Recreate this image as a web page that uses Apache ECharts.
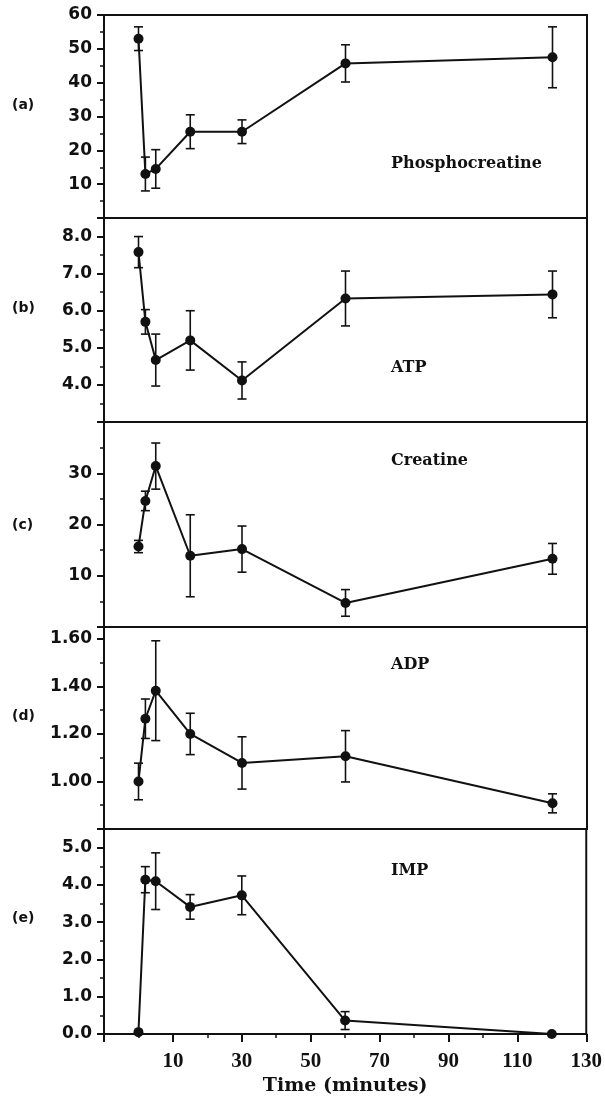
<!DOCTYPE html>
<html><head><meta charset="utf-8">
<script src="https://cdn.jsdelivr.net/npm/echarts@6/dist/echarts.min.js"></script>
<style>html,body{margin:0;padding:0;background:#fff}#c{width:605px;height:1111px}</style>
</head><body><div id="c"></div><script>
// ---- data ----
const times = [0, 2, 5, 15, 30, 60, 120];
const timeTicks = [10, 30, 50, 70, 90, 110, 130];

const pcr = [53, 13, 14.5, 25.5, 25.5, 45.7, 47.5];
const pcrErr = [3.5, 5, 5.7, 5, 3.5, 5.5, 9];
const pcrTicks = [10, 20, 30, 40, 50, 60];

const atp = [7.58, 5.7, 4.67, 5.2, 4.12, 6.33, 6.44];
const atpErr = [0.42, 0.33, 0.7, 0.8, 0.5, 0.74, 0.63];
const atpTicks = [4, 5, 6, 7, 8];

const creatine = [15.7, 24.6, 31.4, 13.9, 15.2, 4.7, 13.3];
const creatineErr = [1.2, 1.9, 4.5, 8, 4.5, 2.6, 3];
const creatineTicks = [10, 20, 30];

const adp = [1.0, 1.264, 1.382, 1.2, 1.078, 1.106, 0.908];
const adpErr = [0.077, 0.083, 0.21, 0.087, 0.11, 0.108, 0.04];
const adpTicks = [1.0, 1.2, 1.4, 1.6];

const imp = [0.05, 4.14, 4.1, 3.41, 3.72, 0.36, 0.0];
const impErr = [0, 0.35, 0.76, 0.33, 0.52, 0.24, 0];
const impTicks = [0, 1, 2, 3, 4, 5];

const panelLetters = ['(a)', '(b)', '(c)', '(d)', '(e)'];
const panelNames = ['Phosphocreatine', 'ATP', 'Creatine', 'ADP', 'IMP'];

// ---- layout / scales ----
const panels = [
  {vals: pcr, err: pcrErr, ticks: pcrTicks, min: 0, max: 60, step: 10, dec: 0, top: 15, h: 203, ly: 107, ny: 166},
  {vals: atp, err: atpErr, ticks: atpTicks, min: 3, max: 8.5, step: 1, dec: 1, top: 218, h: 204, ly: 310, ny: 370},
  {vals: creatine, err: creatineErr, ticks: creatineTicks, min: 0, max: 40, step: 10, dec: 0, top: 422, h: 205, ly: 527, ny: 463},
  {vals: adp, err: adpErr, ticks: adpTicks, min: 0.8, max: 1.65, step: 0.2, dec: 2, top: 627, h: 202, ly: 718, ny: 667},
  {vals: imp, err: impErr, ticks: impTicks, min: 0, max: 5.5, step: 1, dec: 1, top: 829, h: 205, ly: 920, ny: 873}
];

const ink = '#111';
const grid = [], xAxis = [], yAxis = [], series = [], graphic = [];

function errRender(params, api) {
  const x = api.value(0), lo = api.value(1), hi = api.value(2);
  if (hi - lo <= 0) return null;
  const a = api.coord([x, lo]), b = api.coord([x, hi]);
  const w = 4.5;
  const style = {stroke: ink, lineWidth: 1.6};
  return {type: 'group', children: [
    {type: 'line', shape: {x1: a[0], y1: a[1], x2: b[0], y2: b[1]}, style: style},
    {type: 'line', shape: {x1: a[0] - w, y1: a[1], x2: a[0] + w, y2: a[1]}, style: style},
    {type: 'line', shape: {x1: b[0] - w, y1: b[1], x2: b[0] + w, y2: b[1]}, style: style}
  ]};
}

panels.forEach((p, i) => {
  const last = i === panels.length - 1;
  grid.push({left: 104, right: 18, top: p.top, height: p.h, show: true, borderColor: ink, borderWidth: 2, backgroundColor: 'transparent'});
  const majors = [], minors = [];
  for (let v = p.min; v <= p.max + 1e-9; v += p.step) majors.push(+v.toFixed(4));
  for (let v = p.min + p.step / 2; v <= p.max + 1e-9; v += p.step) minors.push(+v.toFixed(4));
  yAxis.push({
    type: 'value', gridIndex: i, min: p.min, max: p.max, interval: p.step, position: 'left',
    axisLine: {show: true, onZero: false, lineStyle: {color: ink, width: 2}},
    axisTick: {show: true, inside: false, length: 7, lineStyle: {color: ink, width: 2}, customValues: majors},
    axisLabel: {show: true, customValues: p.ticks, margin: 12, color: ink,
      fontFamily: 'DejaVu Sans', fontWeight: 'bold', fontSize: 17,
      formatter: v => (+v).toFixed(p.dec)},
    splitLine: {show: false}
  });
  yAxis.push({
    type: 'value', gridIndex: i, min: p.min, max: p.max, position: 'left',
    axisLine: {show: false, onZero: false},
    axisTick: {show: true, inside: false, length: 4, lineStyle: {color: ink, width: 1.5}, customValues: minors},
    axisLabel: {show: false},
    splitLine: {show: false}
  });
  xAxis.push({
    type: 'value', gridIndex: i, min: -10, max: 130, interval: 20,
    axisLine: {show: true, onZero: false, lineStyle: {color: ink, width: 2}},
    axisTick: {show: last, length: 8, lineStyle: {color: ink, width: 2}},
    minorTick: {show: last, splitNumber: 2, length: 4, lineStyle: {color: ink, width: 1.5}},
    axisLabel: {show: last, margin: 17, color: ink, fontFamily: 'Liberation Serif', fontWeight: 'bold', fontSize: 21,
      formatter: v => timeTicks.indexOf(Math.round(v)) >= 0 ? String(Math.round(v)) : ''},
    splitLine: {show: false},
    name: last ? 'Time (minutes)' : '', nameLocation: 'middle', nameGap: 43,
    nameTextStyle: {color: ink, fontFamily: 'DejaVu Serif', fontWeight: 'bold', fontSize: 19}
  });
  series.push({
    type: 'custom', xAxisIndex: i, yAxisIndex: 2 * i, z: 2,
    renderItem: errRender,
    data: times.map((t, k) => [t, p.vals[k] - p.err[k], p.vals[k] + p.err[k]]),
    encode: {x: 0, y: [1, 2]}
  });
  series.push({
    type: 'line', xAxisIndex: i, yAxisIndex: 2 * i, z: 3,
    data: times.map((t, k) => [t, p.vals[k]]),
    symbol: 'circle', symbolSize: 10, showSymbol: true,
    itemStyle: {color: ink}, lineStyle: {color: ink, width: 2}, animation: false
  });
  graphic.push({type: 'text', left: 12, top: p.ly - 9, style: {text: panelLetters[i], fill: ink,
    font: 'bold 14px "DejaVu Sans"'}});
  graphic.push({type: 'text', left: 391, top: p.ny - 10, style: {text: panelNames[i], fill: ink,
    font: 'bold 16px "DejaVu Serif"'}});
});

const chart = echarts.init(document.getElementById('c'), null, {renderer: 'canvas'});
chart.setOption({animation: false, backgroundColor: '#fff', grid, xAxis, yAxis, series, graphic});
</script></body></html>
